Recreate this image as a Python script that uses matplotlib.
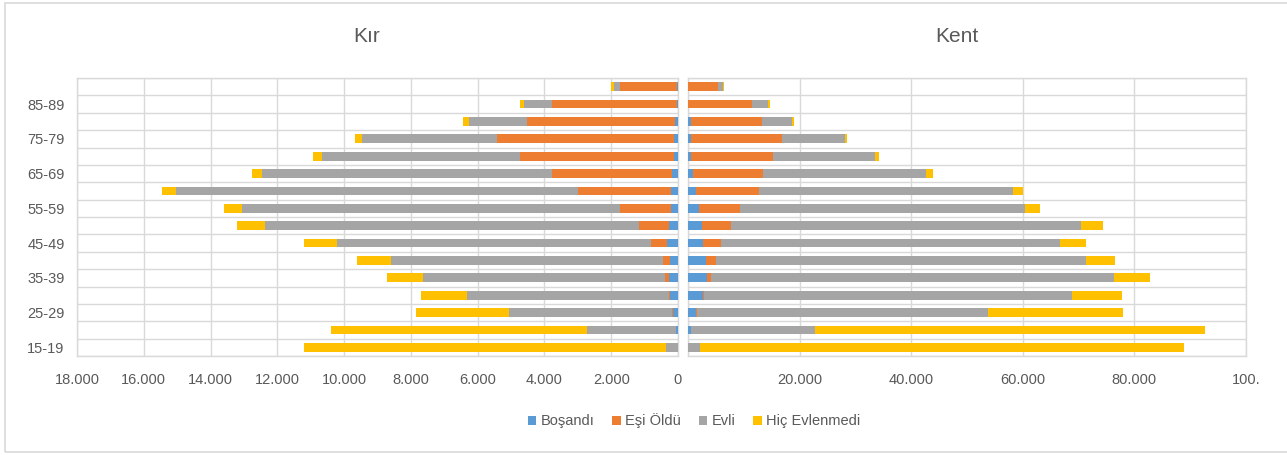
import numpy as np
import matplotlib
matplotlib.use('Agg')
import matplotlib.pyplot as plt
from matplotlib.patches import Rectangle
from matplotlib.ticker import FuncFormatter

plt.rcParams['font.family'] = ['Liberation Sans', 'DejaVu Sans']

# age groups, bottom to top
age_groups = ['15-19', '20-24', '25-29', '30-34', '35-39', '40-44', '45-49', '50-54',
              '55-59', '60-64', '65-69', '70-74', '75-79', '80-84', '85-89', '90+']
series_names = ['Boşandı', 'Eşi Öldü', 'Evli', 'Hiç Evlenmedi']

# Kır
kir_bosandi = [5, 60, 160, 240, 270, 240, 330, 270, 200, 200, 170, 130, 130, 90, 30, 20]
kir_esi_oldu = [2, 5, 15, 40, 130, 200, 470, 890, 1530, 2800, 3590, 4590, 5290, 4420, 3730, 1710]
kir_evli = [340, 2650, 4890, 6040, 7250, 8170, 9400, 11210, 11330, 12030, 8710, 5950, 4030, 1760, 840, 190]
kir_hic = [10850, 7690, 2790, 1370, 1080, 1000, 1000, 840, 530, 410, 290, 250, 210, 170, 120, 80]

# Kent
kent_bosandi = [20, 560, 1410, 2680, 3390, 3250, 2680, 2470, 1900, 1410, 920, 490, 490, 490, 50, 30]
kent_esi_oldu = [5, 20, 280, 210, 770, 1690, 3320, 5290, 7340, 11360, 12560, 14820, 16300, 12770, 11450, 5400]
kent_evli = [2090, 22210, 52000, 65900, 72180, 66390, 60740, 62650, 51220, 45430, 29210, 18270, 11290, 5290, 2820, 780]
kent_hic = [86780, 69840, 24340, 9030, 6490, 5220, 4520, 3880, 2540, 1770, 1200, 710, 490, 490, 420, 210]

colors = ['#5B9BD5', '#ED7D31', '#A5A5A5', '#FFC000']
text_color = '#595959'
grid_color = '#D9D9D9'

W, H = 1287, 455
fig = plt.figure(figsize=(W / 100, H / 100), dpi=100)

# outer chart frame
fig.patches.append(Rectangle((5 / W, 1 - 452 / H), 1.1, (452 - 3) / H,
                             transform=fig.transFigure, fill=False,
                             edgecolor=grid_color, linewidth=1.2))

ax_l = fig.add_axes([77 / W, 1 - 356 / H, 601 / W, 278 / H])
ax_r = fig.add_axes([688 / W, 1 - 356 / H, 558 / W, 278 / H])

y = np.arange(len(age_groups))
bar_h = 0.5


def dotted(v, pos):
    return f'{int(v):,}'.replace(',', '.')


def draw_panel(ax, data, xmax, step):
    left = np.zeros(len(age_groups))
    for vals, name, c in zip(data, series_names, colors):
        ax.barh(y, vals, left=left, height=bar_h, color=c, label=name, zorder=3)
        left += np.array(vals)
    ax.set_ylim(-0.5, len(age_groups) - 0.5)
    ax.set_xticks(np.arange(0, xmax + 1, step))
    ax.xaxis.set_major_formatter(FuncFormatter(dotted))
    ax.set_yticks(np.arange(-0.5, len(age_groups), 1), minor=True)
    ax.grid(axis='x', which='major', color=grid_color, linewidth=1, zorder=0)
    ax.grid(axis='y', which='minor', color=grid_color, linewidth=1, zorder=0)
    ax.tick_params(which='both', length=0, colors=text_color, labelsize=10.5)
    ax.tick_params(axis='x', pad=12)
    for s in ax.spines.values():
        s.set_color(grid_color)
        s.set_linewidth(1)


draw_panel(ax_l, [kir_bosandi, kir_esi_oldu, kir_evli, kir_hic], 18000, 2000)
ax_l.set_xlim(18000, 0)
ax_l.set_yticks(y[::2])
ax_l.set_yticklabels(age_groups[::2])
ax_l.tick_params(axis='y', pad=9)

draw_panel(ax_r, [kent_bosandi, kent_esi_oldu, kent_evli, kent_hic], 100000, 20000)
ax_r.set_xlim(0, 100000)
ax_r.set_yticks([])
# the "0" of the right panel sits under the left one; the last label is clipped
r_labels = [dotted(v, None) for v in ax_r.get_xticks()]
r_labels[0] = ''
r_labels[-1] = '100.'
ax_r.set_xticklabels(r_labels)

fig.text(367 / W, 1 - 37 / H, 'Kır', ha='center', va='center', fontsize=15, color=text_color)
fig.text(957 / W, 1 - 37 / H, 'Kent', ha='center', va='center', fontsize=15, color=text_color)

handles, labels = ax_l.get_legend_handles_labels()
fig.legend(handles, labels, loc='center', bbox_to_anchor=(694 / W, 1 - 421 / H), ncol=4,
           frameon=False, fontsize=10.5, labelcolor=text_color, handlelength=0.6,
           handleheight=0.6, handletextpad=0.3, columnspacing=1.2)

fig.savefig('out.png', dpi=100)
